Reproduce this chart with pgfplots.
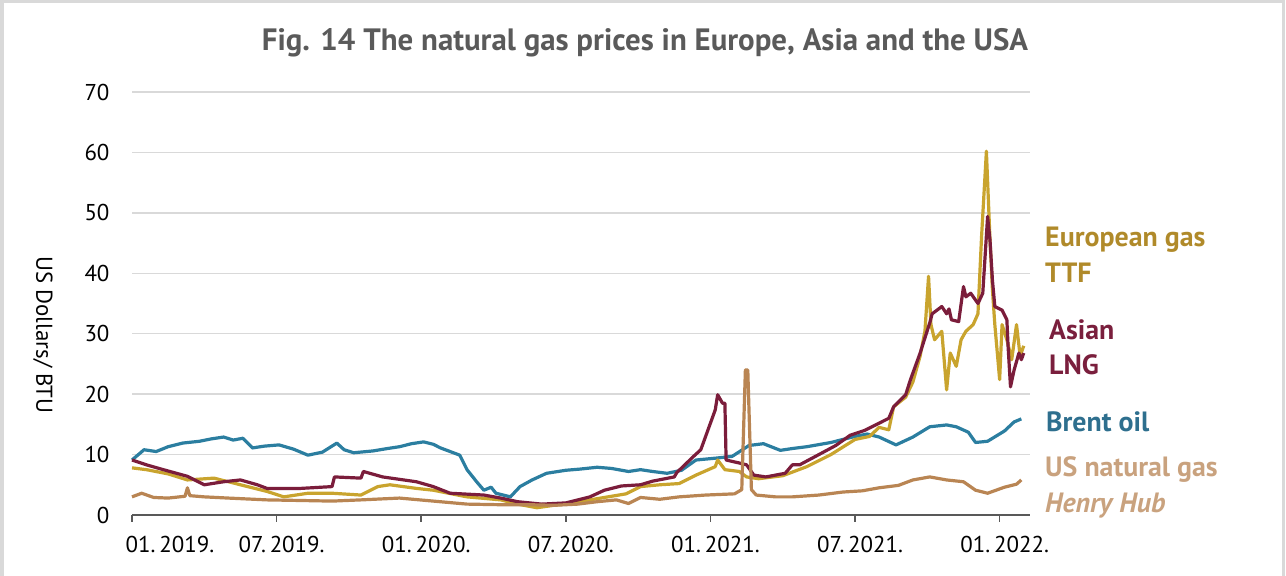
\documentclass[border=0pt]{standalone}
\usepackage{pgfplots}
\pgfplotsset{compat=1.18}
\usepackage{fontspec}
\setmainfont{PT Sans}
\definecolor{ttfline}{HTML}{C9A42E}
\definecolor{ttftext}{HTML}{B08A2A}
\definecolor{lngline}{HTML}{7B1D3B}
\definecolor{lngtext}{HTML}{7A1F3D}
\definecolor{brentline}{HTML}{2B7EA0}
\definecolor{brenttext}{HTML}{2E6F8E}
\definecolor{hhline}{HTML}{B98553}
\definecolor{hhtext}{HTML}{C9A27E}
\definecolor{titlegray}{HTML}{5A5A5A}
\begin{document}
\begin{tikzpicture}[x=1bp,y=1bp]
\useasboundingbox (0,0) rectangle (1286,576);
\draw[gray!30, line width=3bp] (2,0) -- (2,574) -- (1283,574) -- (1283,0);
\node[font=\fontsize{31}{36}\selectfont\bfseries, text=titlegray] at (645,533) {Fig. 14 The natural gas prices in Europe, Asia and the USA};
\node[font=\fontsize{23}{27}\selectfont, rotate=-90] at (43,241) {US Dollars/ BTU};
\begin{axis}[
  at={(132bp,61bp)}, anchor=south west,
  scale only axis, width=898bp, height=423bp,
  xmin=0, xmax=37.26, ymin=0, ymax=70,
  axis x line=bottom, axis y line=left,
  axis line style={-},
  x axis line style={draw=black!65, line width=1.5bp},
  y axis line style={draw=none},
  ytick={0,10,...,70},
  ytick style={draw=none},
  ymajorgrids, grid style={draw=black!15, line width=1.5bp},
  xtick={0,6,12,18,24,30,36},
  xticklabels={\hspace*{66bp}01.\,2019., 07.\,2019., 01.\,2020., 07.\,2020., 01.\,2021., 07.\,2021., 01.\,2022.},
  xtick style={draw=black!65, line width=1.5bp},
  major tick length=7bp,
  tick align=outside,
  /pgf/number format/assume math mode=true,
  tick label style={font=\fontsize{23}{27}\selectfont},
  yticklabel style={xshift=-12bp},
  xticklabel style={yshift=-11bp, xshift=5bp},
  clip=false,
]
\addplot[brentline, line width=3.2bp, line join=round] coordinates {
(0,9.1)(0.5,10.8)(1.0,10.5)(1.5,11.3)(2.1,11.9)(2.8,12.2)(3.3,12.6)(3.8,12.9)(4.2,12.4)(4.6,12.7)(5.0,11.1)(5.5,11.4)(6.1,11.6)(6.7,10.9)(7.3,9.9)(7.9,10.4)(8.5,11.9)(8.8,10.8)(9.2,10.3)(10.0,10.6)(10.6,11.0)(11.1,11.3)(11.6,11.8)(12.1,12.1)(12.5,11.7)(12.8,11.1)(13.2,10.5)(13.6,9.9)(13.9,7.5)(14.3,5.5)(14.6,4.1)(14.9,4.6)(15.1,3.6)(15.4,3.3)(15.7,3.0)(16.1,4.7)(16.6,5.8)(17.2,6.9)(18.0,7.4)(18.6,7.6)(19.3,7.9)(19.9,7.7)(20.6,7.2)(21.1,7.5)(21.6,7.2)(22.2,6.9)(22.8,7.4)(23.4,9.1)(24.2,9.4)(24.9,9.7)(25.6,11.5)(26.2,11.8)(26.9,10.7)(27.4,11.0)(28,11.3)(29,12.0)(30,13.0)(30.5,13.4)(31.0,12.9)(31.7,11.6)(32.4,12.9)(33.1,14.6)(33.8,14.9)(34.2,14.6)(34.7,13.7)(35.0,12.0)(35.5,12.2)(36.2,13.9)(36.6,15.4)(36.9,15.9)
};
\addplot[ttfline, line width=3.2bp, line join=round] coordinates {
(0,7.8)(0.6,7.5)(1.5,6.8)(2.3,5.8)(3.4,6.1)(4.5,5.0)(5.6,3.9)(6.3,3.0)(7.3,3.6)(8.3,3.6)(9.5,3.3)(10.2,4.7)(10.7,5.0)(11.8,4.4)(12.5,4.1)(13.9,3.0)(15.3,2.5)(16.0,1.8)(16.8,1.2)(17.5,1.6)(18.2,1.9)(19,2.5)(20.5,3.5)(21.1,4.7)(21.9,5.0)(22.7,5.2)(23.4,6.6)(24.2,8.0)(24.3,9.1)(24.6,7.5)(25.2,7.2)(25.5,6.3)(26.0,6.0)(27,6.5)(28,8.0)(29,10.0)(30,12.5)(30.6,13.0)(31.0,14.5)(31.4,14.1)(31.6,17.9)(32.1,19.5)(32.4,22.0)(32.7,26.3)(32.9,30.4)(33.05,39.5)(33.15,31.5)(33.3,29.0)(33.6,30.4)(33.8,20.7)(33.95,26.8)(34.2,24.6)(34.4,29.0)(34.6,30.4)(34.9,31.5)(35.1,33.3)(35.25,46.1)(35.45,60.2)(35.6,45.5)(35.7,37.3)(35.8,31.5)(36.0,22.4)(36.1,31.5)(36.3,29.0)(36.5,25.7)(36.7,31.5)(36.85,26.3)(37.0,28.0)
};
\addplot[lngline, line width=3.2bp, line join=round] coordinates {
(0,9.1)(0.6,8.3)(1.3,7.5)(2.3,6.4)(3.0,5.0)(3.8,5.5)(4.5,5.8)(5.2,5.0)(5.6,4.4)(7.0,4.4)(8.3,4.7)(8.4,6.3)(9.5,6.1)(9.6,7.2)(10.4,6.3)(11.8,5.5)(12.5,4.7)(13.2,3.6)(14.6,3.3)(15.3,2.8)(16,2.2)(17,1.8)(18,2.0)(19,3.0)(19.6,4.1)(20.3,4.8)(21.1,5.0)(21.6,5.6)(22.5,6.3)(22.6,7.0)(23.3,9.7)(23.6,10.8)(23.9,14.1)(24.2,17.4)(24.3,19.9)(24.5,18.5)(24.6,18.5)(24.65,9.1)(25.2,8.6)(25.5,8.3)(25.8,6.6)(26.3,6.3)(27.1,6.9)(27.4,8.3)(27.7,8.3)(28.5,10.0)(29.2,11.5)(29.8,13.2)(30.4,14.0)(31.0,15.2)(31.4,16.0)(31.6,17.9)(32.1,19.9)(32.3,22.4)(32.7,26.8)(33.1,31.8)(33.2,33.3)(33.6,34.5)(33.8,33.3)(33.9,34.1)(34.0,32.3)(34.3,32.0)(34.5,37.8)(34.6,36.1)(34.8,36.7)(35.1,35.0)(35.3,36.7)(35.5,49.4)(35.6,45.5)(35.7,38.9)(35.8,34.5)(36.1,33.9)(36.3,32.3)(36.35,27.9)(36.45,21.2)(36.6,24.0)(36.8,26.8)(36.9,25.7)(37.0,26.8)
};
\addplot[hhline, line width=3.2bp, line join=round] coordinates {
(0,3.0)(0.4,3.6)(0.9,2.9)(1.5,2.8)(2.2,3.1)(2.3,4.5)(2.4,3.2)(3.0,3.0)(4.0,2.8)(5.6,2.5)(7.0,2.4)(8.3,2.3)(9.5,2.5)(11.1,2.8)(12.5,2.3)(13.9,1.8)(15.3,1.7)(16.5,1.7)(17.5,1.6)(18.5,1.8)(19.3,2.2)(20.1,2.5)(20.6,1.9)(21.1,2.9)(21.9,2.6)(22.7,3.0)(23.8,3.3)(25.0,3.5)(25.3,4.2)(25.45,24.0)(25.55,24.0)(25.7,4.2)(25.9,3.3)(26.7,3.0)(27.4,3.0)(28.5,3.3)(29.5,3.8)(30.3,4.0)(31.0,4.5)(31.8,4.9)(32.4,5.8)(33.1,6.3)(33.8,5.8)(34.5,5.5)(35.0,4.1)(35.5,3.6)(36.2,4.6)(36.7,5.1)(36.9,5.8)
};
\end{axis}
\begin{scope}[every node/.style={anchor=west, inner sep=0pt, font=\fontsize{28}{32}\selectfont\bfseries}]
\node[text=ttftext] at (1045,336) {European gas};
\node[text=ttftext] at (1045,303) {TTF};
\node[text=lngtext] at (1049,246) {Asian};
\node[text=lngtext] at (1049,211) {LNG};
\node[text=brenttext] at (1046,154) {Brent oil};
\node[text=hhtext] at (1045,106) {US natural gas};
\node[text=hhtext, font=\fontsize{28}{32}\selectfont\bfseries\itshape] at (1045,70) {Henry Hub};
\end{scope}
\end{tikzpicture}
\end{document}
